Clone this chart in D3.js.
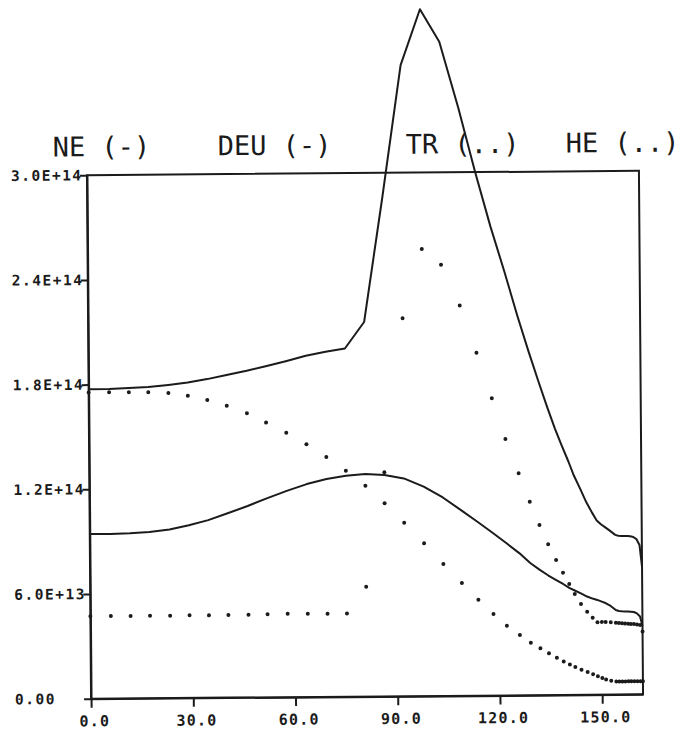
<!DOCTYPE html>
<html>
<head>
<meta charset="utf-8">
<script src="https://cdn.jsdelivr.net/npm/d3@7"></script>
<style>
  html, body { margin: 0; padding: 0; background: #fff; }
  svg { display: block; }
</style>
</head>
<body>
<svg id="chart" width="699" height="745"></svg>
<script>
// Densities are listed in units of 1e14.
const unit = 1e14;

const time = [0, 6.0, 11.8, 17.5, 23.4, 29.1, 34.8, 40.5, 46.4, 52.0, 57.9, 63.8, 69.6, 75.3,
  81.0, 86.6, 92.3, 98.1, 103.7, 109.1, 113.9, 118.3, 122.2, 126.0, 129.2, 132.0, 134.5,
  136.8, 138.8, 140.6, 142.2, 144.0, 145.8, 147.4, 148.8, 150.1, 151.2, 152.7, 154.2,
  155.1, 156.0, 156.9, 157.8, 158.6, 159.5, 160.4, 161.3, 162.0];

const ne = [1.773, 1.774, 1.778, 1.783, 1.794, 1.807, 1.826, 1.849, 1.872, 1.897, 1.925, 1.955,
  1.978, 1.995, 2.146, 2.856, 3.617, 3.936, 3.749, 3.371, 3.002, 2.687, 2.434, 2.174, 1.969,
  1.799, 1.652, 1.524, 1.425, 1.339, 1.257, 1.182, 1.103, 1.045, 0.998, 0.975, 0.960, 0.938,
  0.915, 0.910, 0.908, 0.908, 0.908, 0.906, 0.902, 0.890, 0.856, 0.730];

const deu = [0.944, 0.943, 0.946, 0.952, 0.966, 0.989, 1.018, 1.056, 1.097, 1.140, 1.182, 1.220,
  1.248, 1.266, 1.275, 1.269, 1.248, 1.200, 1.137, 1.062, 0.995, 0.931, 0.873, 0.815, 0.758,
  0.718, 0.685, 0.659, 0.636, 0.613, 0.598, 0.581, 0.563, 0.551, 0.543, 0.533, 0.525, 0.508,
  0.484, 0.479, 0.477, 0.476, 0.476, 0.474, 0.472, 0.464, 0.446, 0.391];

const tr = [1.755, 1.755, 1.754, 1.753, 1.748, 1.732, 1.706, 1.673, 1.628, 1.574, 1.515, 1.448,
  1.374, 1.295, 1.208, 1.107, 0.994, 0.875, 0.756, 0.646, 0.550, 0.467, 0.399, 0.346, 0.301,
  0.268, 0.239, 0.213, 0.192, 0.174, 0.160, 0.144, 0.130, 0.118, 0.106, 0.095, 0.087, 0.079,
  0.075, 0.075, 0.075, 0.075, 0.075, 0.075, 0.075, 0.075, 0.075, 0.075];

const he = [0.473, 0.473, 0.472, 0.473, 0.472, 0.473, 0.472, 0.473, 0.474, 0.476, 0.478, 0.477,
  0.476, 0.476, 0.629, 1.284, 2.166, 2.562, 2.471, 2.236, 1.965, 1.703, 1.469, 1.272, 1.109,
  0.975, 0.864, 0.774, 0.701, 0.636, 0.578, 0.520, 0.476, 0.441, 0.415, 0.417, 0.416, 0.414,
  0.412, 0.410, 0.408, 0.406, 0.405, 0.404, 0.403, 0.401, 0.398, 0.360];

const xTicks = [0, 30, 60, 90, 120, 150];
const xTickLabels = ["0.0", "30.0", "60.0", "90.0", "120.0", "150.0"];
const yTicks = [0, 0.6, 1.2, 1.8, 2.4, 3.0];
const yTickLabels = ["0.00", "6.0E+13", "1.2E+14", "1.8E+14", "2.4E+14", "3.0E+14"];
const seriesNames = ["NE (-)", "DEU (-)", "TR (..)", "HE (..)"];

// ---- layout ----
const W = 699, H = 745;
const box = { left: 89, right: 641, top: 173, bottom: 696.5 };
const ink = "#1b1b1b";
const mono = "'DejaVu Sans Mono', 'Liberation Mono', monospace";

const x = d3.scaleLinear().domain([0, 162]).range([box.left, box.right]);
const y = d3.scaleLinear().domain([0, 3 * unit]).range([box.bottom, box.top]);

const svg = d3.select("#chart");
svg.append("rect").attr("width", W).attr("height", H).attr("fill", "#fff");

// the whole plotter sheet sits with a slight counter-clockwise tilt
const g = svg.append("g").attr("transform", "rotate(-0.45 366 436)");

// frame
g.append("rect")
  .attr("x", box.left).attr("y", box.top)
  .attr("width", box.right - box.left).attr("height", box.bottom - box.top)
  .attr("fill", "none").attr("stroke", ink).attr("stroke-width", 2);

// x axis
const gx = g.append("g")
  .attr("transform", `translate(0,${box.bottom})`)
  .call(d3.axisBottom(x).tickValues(xTicks).tickSize(9).tickSizeOuter(0).tickPadding(8)
    .tickFormat((d, i) => xTickLabels[i]));
gx.select(".domain").attr("stroke", ink).attr("stroke-width", 2);
gx.selectAll(".tick line").attr("stroke", ink).attr("stroke-width", 2);
gx.selectAll(".tick text")
  .attr("fill", ink).attr("font-family", mono).attr("font-weight", "bold")
  .attr("font-size", 15).attr("letter-spacing", 1.2).attr("dx", 3);

// y axis
const gy = g.append("g")
  .attr("transform", `translate(${box.left},0)`)
  .call(d3.axisLeft(y).tickValues(yTicks.map(v => v * unit)).tickSize(7).tickSizeOuter(0)
    .tickFormat((d, i) => yTickLabels[i]));
gy.select(".domain").attr("stroke", ink).attr("stroke-width", 2);
gy.selectAll(".tick line").attr("stroke", ink).attr("stroke-width", 2);
gy.selectAll(".tick text")
  .attr("fill", ink).attr("font-family", mono).attr("font-weight", "bold")
  .attr("font-size", 14.5).attr("letter-spacing", 1.5)
  .attr("text-anchor", "start").attr("x", 13 - box.left);

// solid curves
const line = d3.line().x((d, i) => x(time[i])).y(d => y(d * unit));
[ne, deu].forEach(s => {
  g.append("path").datum(s)
    .attr("d", line)
    .attr("fill", "none").attr("stroke", ink).attr("stroke-width", 2)
    .attr("stroke-linejoin", "round");
});

// dotted curves: one dot per time step
[tr, he].forEach(s => {
  g.append("g").selectAll("circle").data(s).join("circle")
    .attr("cx", (d, i) => x(time[i]))
    .attr("cy", d => y(d * unit))
    .attr("r", 2)
    .attr("fill", ink);
});

// series names across the top
const nameX = [55, 220, 408, 568];
g.append("g").selectAll("text").data(seriesNames).join("text")
  .attr("x", (d, i) => nameX[i])
  .attr("y", 154)
  .attr("font-family", mono)
  .attr("font-size", 27)
  .attr("letter-spacing", 0)
  .attr("fill", ink)
  .text(d => d);
</script>
</body>
</html>
